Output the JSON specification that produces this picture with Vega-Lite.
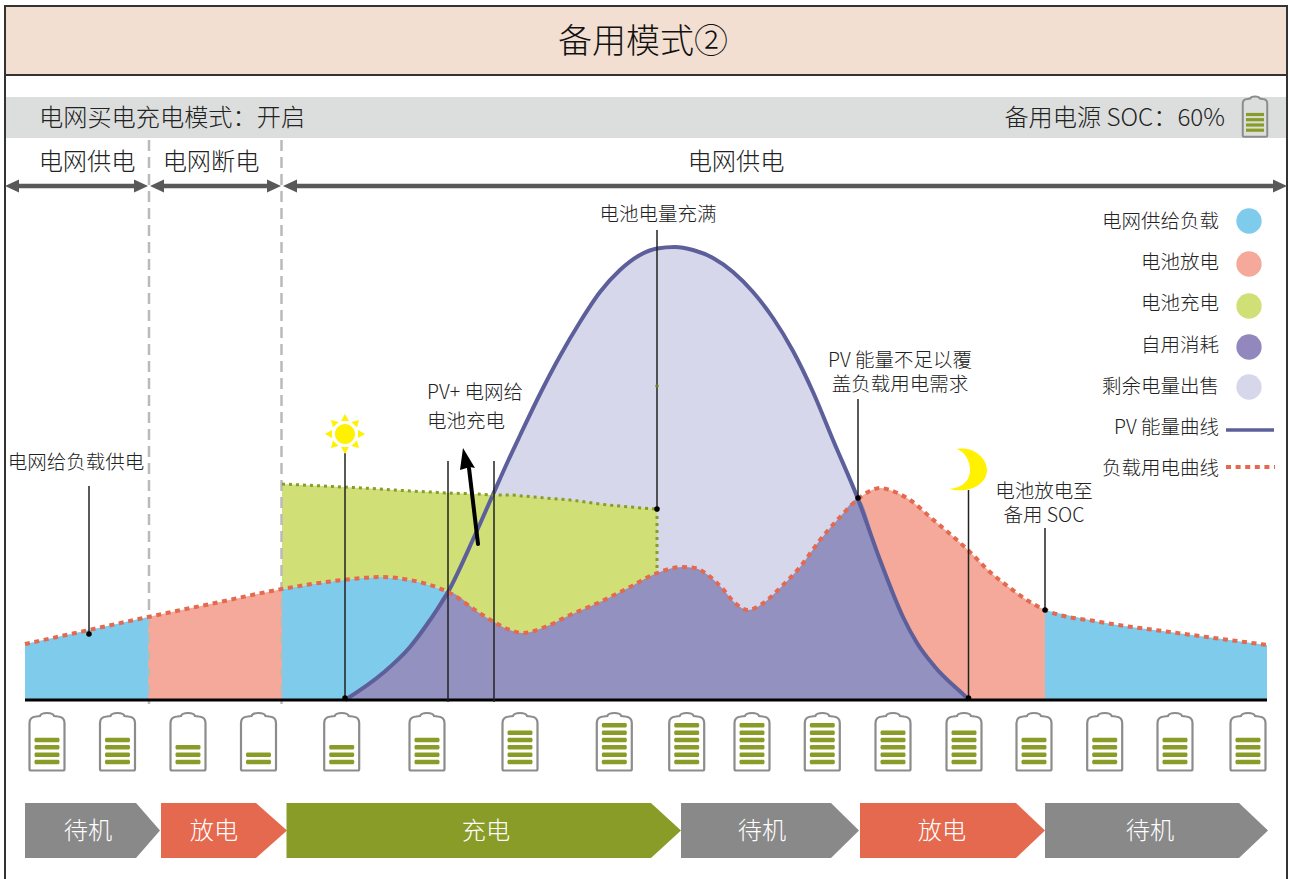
{"$schema":"https://vega.github.io/schema/vega-lite/v6.json","width":1290,"height":879,"padding":0,"autosize":{"type":"none"},"background":"#ffffff","config":{"view":{"stroke":null},"text":{"font":"Noto Sans CJK SC","fontWeight":300,"color":"#222222","baseline":"middle"}},
"datasets":{
"load":[{"x":25,"v":56},{"x":89,"v":70},{"x":148,"v":83},{"x":215,"v":97},{"x":282,"v":111},{"x":343,"v":120},{"x":380,"v":123},{"x":410,"v":120},{"x":430,"v":115},{"x":448,"v":108},{"x":478,"v":88},{"x":494,"v":78},{"x":510,"v":70},{"x":523,"v":67},{"x":545,"v":73},{"x":570,"v":85},{"x":600,"v":98},{"x":630,"v":113},{"x":657,"v":127},{"x":682,"v":133},{"x":695,"v":132},{"x":708,"v":125},{"x":722,"v":112},{"x":735,"v":97},{"x":748,"v":90},{"x":762,"v":96},{"x":780,"v":112},{"x":800,"v":133},{"x":820,"v":160},{"x":840,"v":183},{"x":858,"v":201},{"x":870,"v":209},{"x":880,"v":212},{"x":895,"v":208},{"x":910,"v":200},{"x":930,"v":183},{"x":950,"v":166},{"x":968,"v":150},{"x":990,"v":128},{"x":1010,"v":112},{"x":1030,"v":98},{"x":1045,"v":90},{"x":1100,"v":78},{"x":1170,"v":68},{"x":1267,"v":55}],
"pv":[{"x":345,"v":0},{"x":383,"v":27},{"x":410,"v":53},{"x":430,"v":80},{"x":448,"v":108},{"x":475,"v":165},{"x":493,"v":205.5},{"x":508,"v":239},{"x":520,"v":264.5},{"x":540,"v":306},{"x":560,"v":344},{"x":580,"v":378},{"x":600,"v":408},{"x":620,"v":430},{"x":640,"v":445},{"x":657,"v":451.5},{"x":675,"v":453},{"x":693,"v":450},{"x":713,"v":442},{"x":733,"v":428},{"x":753,"v":408},{"x":773,"v":382},{"x":793,"v":349},{"x":813,"v":308},{"x":833,"v":260},{"x":858,"v":201},{"x":880,"v":140},{"x":903,"v":83},{"x":917,"v":57},{"x":935,"v":33},{"x":967,"v":2},{"x":969,"v":0}],
"self":[{"x":345,"v":0},{"x":383,"v":27},{"x":410,"v":53},{"x":430,"v":80},{"x":448,"v":108},{"x":478,"v":88},{"x":494,"v":78},{"x":510,"v":70},{"x":523,"v":67},{"x":545,"v":73},{"x":570,"v":85},{"x":600,"v":98},{"x":630,"v":113},{"x":657,"v":127},{"x":682,"v":133},{"x":695,"v":132},{"x":708,"v":125},{"x":722,"v":112},{"x":735,"v":97},{"x":748,"v":90},{"x":762,"v":96},{"x":780,"v":112},{"x":800,"v":133},{"x":820,"v":160},{"x":840,"v":183},{"x":858,"v":201},{"x":880,"v":140},{"x":903,"v":83},{"x":917,"v":57},{"x":935,"v":33},{"x":967,"v":2},{"x":969,"v":0}],
"charge":[{"x":282,"v":216,"v2":111},{"x":343,"v":213,"v2":120},{"x":380,"v":211,"v2":123},{"x":410,"v":209,"v2":120},{"x":430,"v":208,"v2":115},{"x":448,"v":207,"v2":108},{"x":478,"v":206,"v2":88},{"x":494,"v":205,"v2":78},{"x":510,"v":205,"v2":70},{"x":523,"v":204,"v2":67},{"x":545,"v":202,"v2":73},{"x":570,"v":200,"v2":85},{"x":600,"v":196,"v2":98},{"x":630,"v":193,"v2":113},{"x":657,"v":191,"v2":127}],
"chev":[{"seg":"a","x":25,"v":-103,"v2":-158},{"seg":"a","x":136,"v":-103,"v2":-158},{"seg":"a","x":160,"v":-130.5,"v2":-130.5},{"seg":"c","x":681,"v":-103,"v2":-158},{"seg":"c","x":831,"v":-103,"v2":-158},{"seg":"c","x":859,"v":-130.5,"v2":-130.5},{"seg":"e","x":1045,"v":-103,"v2":-158},{"seg":"e","x":1239,"v":-103,"v2":-158},{"seg":"e","x":1268,"v":-130.5,"v2":-130.5}],
"chevO":[{"seg":"a","x":161,"v":-103,"v2":-158},{"seg":"a","x":256,"v":-103,"v2":-158},{"seg":"a","x":287,"v":-130.5,"v2":-130.5},{"seg":"b","x":860,"v":-103,"v2":-158},{"seg":"b","x":1016,"v":-103,"v2":-158},{"seg":"b","x":1045,"v":-130.5,"v2":-130.5}],
"chevG":[{"seg":"a","x":286.5,"v":-103,"v2":-158},{"seg":"a","x":651,"v":-103,"v2":-158},{"seg":"a","x":681,"v":-130.5,"v2":-130.5}],
"batteries":[{"x":47,"v":-43},{"x":117.5,"v":-43},{"x":188,"v":-43},{"x":258.5,"v":-43},{"x":341.7,"v":-43},{"x":427,"v":-43},{"x":520,"v":-43},{"x":614.3,"v":-43},{"x":686.7,"v":-43},{"x":752,"v":-43},{"x":822.3,"v":-43},{"x":893,"v":-43},{"x":964,"v":-43},{"x":1034,"v":-43},{"x":1104.7,"v":-43},{"x":1175,"v":-43},{"x":1248,"v":-43}],
"bars":[{"x":47,"v":-62},{"x":47,"v":-54.7},{"x":47,"v":-47.3},{"x":47,"v":-40},{"x":117.5,"v":-62},{"x":117.5,"v":-54.7},{"x":117.5,"v":-47.3},{"x":117.5,"v":-40},{"x":188,"v":-62},{"x":188,"v":-54.7},{"x":188,"v":-47.3},{"x":258.5,"v":-62},{"x":258.5,"v":-54.7},{"x":341.7,"v":-62},{"x":341.7,"v":-54.7},{"x":341.7,"v":-47.3},{"x":427,"v":-62},{"x":427,"v":-54.7},{"x":427,"v":-47.3},{"x":427,"v":-40},{"x":520,"v":-62},{"x":520,"v":-54.7},{"x":520,"v":-47.3},{"x":520,"v":-40},{"x":520,"v":-32.7},{"x":614.3,"v":-62},{"x":614.3,"v":-54.7},{"x":614.3,"v":-47.3},{"x":614.3,"v":-40},{"x":614.3,"v":-32.7},{"x":614.3,"v":-25.3},{"x":686.7,"v":-62},{"x":686.7,"v":-54.7},{"x":686.7,"v":-47.3},{"x":686.7,"v":-40},{"x":686.7,"v":-32.7},{"x":686.7,"v":-25.3},{"x":752,"v":-62},{"x":752,"v":-54.7},{"x":752,"v":-47.3},{"x":752,"v":-40},{"x":752,"v":-32.7},{"x":752,"v":-25.3},{"x":822.3,"v":-62},{"x":822.3,"v":-54.7},{"x":822.3,"v":-47.3},{"x":822.3,"v":-40},{"x":822.3,"v":-32.7},{"x":822.3,"v":-25.3},{"x":893,"v":-62},{"x":893,"v":-54.7},{"x":893,"v":-47.3},{"x":893,"v":-40},{"x":893,"v":-32.7},{"x":964,"v":-62},{"x":964,"v":-54.7},{"x":964,"v":-47.3},{"x":964,"v":-40},{"x":964,"v":-32.7},{"x":1034,"v":-62},{"x":1034,"v":-54.7},{"x":1034,"v":-47.3},{"x":1034,"v":-40},{"x":1104.7,"v":-62},{"x":1104.7,"v":-54.7},{"x":1104.7,"v":-47.3},{"x":1104.7,"v":-40},{"x":1175,"v":-62},{"x":1175,"v":-54.7},{"x":1175,"v":-47.3},{"x":1175,"v":-40},{"x":1248,"v":-62},{"x":1248,"v":-54.7},{"x":1248,"v":-47.3},{"x":1248,"v":-40}],
"annot":[{"x":89,"v":214,"v2":66},{"x":345,"v":247,"v2":2},{"x":448,"v":239,"v2":-2},{"x":494,"v":239,"v2":-2},{"x":657,"v":470,"v2":191},{"x":858,"v":301,"v2":202},{"x":968.5,"v":210,"v2":2},{"x":1045,"v":172,"v2":90}],
"dots":[{"x":89,"v":66},{"x":345,"v":2},{"x":657,"v":191},{"x":858,"v":202},{"x":968.5,"v":2},{"x":1045,"v":90}],
"size19":[{"x":658,"v":486,"t":"电池电量充满"},{"x":76,"v":238,"t":"电网给负载供电"},{"x":475,"v":308,"t":"PV+ 电网给"},{"x":466,"v":279,"t":"电池充电"},{"x":900,"v":340,"t":"PV 能量不足以覆"},{"x":900,"v":316,"t":"盖负载用电需求"},{"x":1044,"v":209,"t":"电池放电至"},{"x":1044,"v":185,"t":"备用 SOC"}],
"legendT":[{"x":1219,"v":479,"t":"电网供给负载"},{"x":1219,"v":438,"t":"电池放电"},{"x":1219,"v":397,"t":"电池充电"},{"x":1219,"v":355,"t":"自用消耗"},{"x":1219,"v":314,"t":"剩余电量出售"},{"x":1219,"v":273,"t":"PV 能量曲线"},{"x":1219,"v":232,"t":"负载用电曲线"}],
"size24c":[{"x":87,"v":539,"t":"电网供电"},{"x":211,"v":539,"t":"电网断电"},{"x":736,"v":539,"t":"电网供电"}],
"chevT":[{"x":88,"v":-130,"t":"待机"},{"x":214,"v":-130,"t":"放电"},{"x":486,"v":-130,"t":"充电"},{"x":762,"v":-130,"t":"待机"},{"x":942,"v":-130,"t":"放电"},{"x":1150,"v":-130,"t":"待机"}]
},
"encoding":{"x":{"field":"x","type":"quantitative","scale":{"domain":[0,1290],"nice":false,"zero":false},"axis":null},"y":{"field":"v","type":"quantitative","stack":null,"scale":{"domain":[-179,700],"nice":false,"zero":false},"axis":null}},
"layer":[
{"data":{"values":[{"x":5,"x2":1287,"v":694,"v2":625}]},"mark":{"type":"rect","fill":"#f2dfd1","stroke":"#333333","strokeWidth":2},"encoding":{"x2":{"field":"x2"},"y2":{"field":"v2"}}},
{"data":{"values":[{"x":6,"x2":1286,"v":603,"v2":562}]},"mark":{"type":"rect","fill":"#dcdedd"},"encoding":{"x2":{"field":"x2"},"y2":{"field":"v2"}}},
{"data":{"values":[{"x":5,"v":694,"v2":-179},{"x":1287,"v":694,"v2":-179}]},"mark":{"type":"rule","stroke":"#333333","strokeWidth":2},"encoding":{"y2":{"field":"v2"}}},
{"data":{"name":"load"},"transform":[{"filter":"datum.x<=148"}],"mark":{"type":"area","fill":"#7fcbeb","interpolate":"monotone"},"encoding":{"y2":{"datum":0}}},
{"data":{"name":"load"},"transform":[{"filter":"datum.x>=148 && datum.x<=282"}],"mark":{"type":"area","fill":"#f4a99a","interpolate":"monotone"},"encoding":{"y2":{"datum":0}}},
{"data":{"name":"load"},"transform":[{"filter":"datum.x>=282 && datum.x<=448"}],"mark":{"type":"area","fill":"#7fcbeb","interpolate":"monotone"},"encoding":{"y2":{"datum":0}}},
{"data":{"name":"load"},"transform":[{"filter":"datum.x>=858 && datum.x<=1045"}],"mark":{"type":"area","fill":"#f4a99a","interpolate":"monotone"},"encoding":{"y2":{"datum":0}}},
{"data":{"name":"load"},"transform":[{"filter":"datum.x>=1045"}],"mark":{"type":"area","fill":"#7fcbeb","interpolate":"monotone"},"encoding":{"y2":{"datum":0}}},
{"data":{"name":"pv"},"transform":[{"filter":"datum.x>=448 && datum.x<=858"}],"mark":{"type":"area","fill":"#d6d7ea","interpolate":"monotone"},"encoding":{"y2":{"datum":0}}},
{"data":{"name":"charge"},"mark":{"type":"area","fill":"#d0e077","interpolate":"monotone"},"encoding":{"y2":{"field":"v2"}}},
{"data":{"name":"self"},"mark":{"type":"area","fill":"#9291c0","interpolate":"monotone"},"encoding":{"y2":{"datum":0}}},
{"data":{"values":[{"x":149,"v":560,"v2":-4},{"x":281.5,"v":560,"v2":-4}]},"mark":{"type":"rule","stroke":"#bababa","strokeWidth":2.5,"strokeDash":[11,6]},"encoding":{"y2":{"field":"v2"}}},
{"data":{"name":"pv"},"mark":{"type":"line","stroke":"#5d5f9b","strokeWidth":4,"interpolate":"monotone"},"encoding":{}},
{"data":{"name":"charge"},"mark":{"type":"line","stroke":"#8a9c28","strokeWidth":3,"strokeDash":[3,4],"interpolate":"monotone"},"encoding":{}},
{"data":{"values":[{"x":657,"v":191,"v2":127}]},"mark":{"type":"rule","stroke":"#8a9c28","strokeWidth":3,"strokeDash":[3,4]},"encoding":{"y2":{"field":"v2"}}},
{"data":{"name":"load"},"mark":{"type":"line","stroke":"#e4694e","strokeWidth":4,"strokeDash":[5,4.6],"interpolate":"monotone"},"encoding":{}},
{"data":{"values":[{"x":25,"x2":1267,"v":0}]},"mark":{"type":"rule","stroke":"#000000","strokeWidth":3},"encoding":{"x2":{"field":"x2"}}},
{"data":{"name":"annot"},"mark":{"type":"rule","stroke":"#222222","strokeWidth":1.5},"encoding":{"y2":{"field":"v2"}}},
{"data":{"name":"dots"},"mark":{"type":"circle","fill":"#000000","size":30,"opacity":1},"encoding":{}},
{"data":{"values":[{"x":657,"v":314}]},"mark":{"type":"circle","fill":"#6f7f20","size":12,"opacity":1},"encoding":{}},
{"data":{"values":[{"x":478,"v":156},{"x":469,"v":232}]},"mark":{"type":"line","stroke":"#000000","strokeWidth":4,"strokeCap":"round"},"encoding":{"order":{"field":"v"}}},
{"data":{"values":[{"x":463,"v":252}]},"mark":{"type":"point","filled":true,"fill":"#000000","opacity":1,"size":4,"shape":"M0,0 L12,20 L7,19 L-3,22 Z"},"encoding":{}},
{"data":{"values":[{"x":345,"v":266}]},"mark":{"type":"point","filled":true,"fill":"#fff100","opacity":1,"size":4,"shape":"M-10,0 A10,10 0 1,0 10,0 A10,10 0 1,0 -10,0 Z M0,-20 L-4,-13 L4,-13 Z M0,20 L-4,13 L4,13 Z M-20,0 L-13,-4 L-13,4 Z M20,0 L13,-4 L13,4 Z M14,-14 L6.4,-12 L12,-6.4 Z M-14,-14 L-6.4,-12 L-12,-6.4 Z M14,14 L6.4,12 L12,6.4 Z M-14,14 L-6.4,12 L-12,6.4 Z"},"encoding":{}},
{"data":{"values":[{"x":968,"v":230}]},"mark":{"type":"point","filled":true,"fill":"#fff100","opacity":1,"size":4,"shape":"M-11,-21 C5,-24 19,-12 19,0 C19,14 2,24 -19,19 C-5,18 2,10 2,0 C2,-9 -3,-18 -11,-21 Z"},"encoding":{}},
{"data":{"values":[{"x":12,"x2":140,"v":514},{"x":156,"x2":273,"v":514},{"x":289,"x2":1274,"v":514}]},"mark":{"type":"rule","stroke":"#595959","strokeWidth":4.5},"encoding":{"x2":{"field":"x2"}}},
{"data":{"values":[{"x":5,"v":514},{"x":150,"v":514},{"x":283,"v":514}]},"mark":{"type":"point","filled":true,"fill":"#595959","opacity":1,"size":4,"shape":"M0,0 L14,-6.5 L14,6.5 Z"},"encoding":{}},
{"data":{"values":[{"x":148,"v":514},{"x":281,"v":514},{"x":1287,"v":514}]},"mark":{"type":"point","filled":true,"fill":"#595959","opacity":1,"size":4,"shape":"M0,0 L-14,-6.5 L-14,6.5 Z"},"encoding":{}},
{"data":{"name":"batteries"},"mark":{"type":"point","filled":false,"fill":"#ffffff","fillOpacity":1,"stroke":"#8c8c8c","strokeWidth":2.2,"opacity":1,"size":4,"shape":"M-17.5,-20 Q-17.5,-26 -11,-26.5 L-7,-27 Q-6,-30 0,-30 Q6,-30 7,-27 L11,-26.5 Q17.5,-26 17.5,-20 L17.5,26 Q17.5,27.5 16,27.5 L-16,27.5 Q-17.5,27.5 -17.5,26 Z"},"encoding":{}},
{"data":{"name":"bars"},"mark":{"type":"rect","fill":"#8a9c28","width":25,"height":4.5,"cornerRadius":1.5},"encoding":{}},
{"data":{"values":[{"x":1255,"v":582.5}]},"mark":{"type":"point","filled":false,"fill":"#dcdedd","fillOpacity":1,"stroke":"#8c8c8c","strokeWidth":2,"opacity":1,"size":1.96,"shape":"M-17.5,-20 Q-17.5,-26 -11,-26.5 L-7,-27 Q-6,-30 0,-30 Q6,-30 7,-27 L11,-26.5 Q17.5,-26 17.5,-20 L17.5,26 Q17.5,27.5 16,27.5 L-16,27.5 Q-17.5,27.5 -17.5,26 Z"},"encoding":{}},
{"data":{"values":[{"x":1255,"v":585.5},{"x":1255,"v":580.3},{"x":1255,"v":575},{"x":1255,"v":569.8}]},"mark":{"type":"rect","fill":"#8a9c28","width":18,"height":3.2},"encoding":{}},
{"data":{"name":"chev"},"mark":{"type":"area","fill":"#898989"},"encoding":{"y2":{"field":"v2"},"detail":{"field":"seg"}}},
{"data":{"name":"chevO"},"mark":{"type":"area","fill":"#e4694e"},"encoding":{"y2":{"field":"v2"},"detail":{"field":"seg"}}},
{"data":{"name":"chevG"},"mark":{"type":"area","fill":"#8a9c28"},"encoding":{"y2":{"field":"v2"},"detail":{"field":"seg"}}},
{"data":{"values":[{"x":1249,"v":479,"k":"电网供给负载"}]},"mark":{"type":"circle","fill":"#7fcbeb","size":640,"opacity":1},"encoding":{}},
{"data":{"values":[{"x":1249,"v":436,"k":"电池放电"}]},"mark":{"type":"circle","fill":"#f4a99a","size":640,"opacity":1},"encoding":{}},
{"data":{"values":[{"x":1249,"v":394,"k":"电池充电"}]},"mark":{"type":"circle","fill":"#d0e077","size":640,"opacity":1},"encoding":{}},
{"data":{"values":[{"x":1249,"v":353,"k":"自用消耗"}]},"mark":{"type":"circle","fill":"#9388bd","size":640,"opacity":1},"encoding":{}},
{"data":{"values":[{"x":1249,"v":313,"k":"剩余电量出售"}]},"mark":{"type":"circle","fill":"#d6d7ea","size":640,"opacity":1},"encoding":{}},
{"data":{"values":[{"x":1226,"x2":1274,"v":270}]},"mark":{"type":"rule","stroke":"#5d5f9b","strokeWidth":3.5},"encoding":{"x2":{"field":"x2"}}},
{"data":{"values":[{"x":1226,"x2":1275,"v":233}]},"mark":{"type":"rule","stroke":"#e4694e","strokeWidth":4,"strokeDash":[5,4.6]},"encoding":{"x2":{"field":"x2"}}},
{"data":{"values":[{"x":643,"v":659,"t":"备用模式②"}]},"mark":{"type":"text","fontSize":34,"align":"center","color":"#111111","fontWeight":300,"dy":2},"encoding":{"text":{"field":"t"}}},
{"data":{"values":[{"x":39,"v":583,"t":"电网买电充电模式：开启"}]},"mark":{"type":"text","fontSize":24.2,"align":"left","dy":1.5},"encoding":{"text":{"field":"t"}}},
{"data":{"values":[{"x":1225,"v":583,"t":"备用电源 SOC：60%"}]},"mark":{"type":"text","fontSize":24.2,"align":"right","dy":1.5},"encoding":{"text":{"field":"t"}}},
{"data":{"name":"size24c"},"mark":{"type":"text","fontSize":24.2,"align":"center","dy":1.5},"encoding":{"text":{"field":"t"}}},
{"data":{"name":"size19"},"mark":{"type":"text","fontSize":19.5,"align":"center","dy":0.8},"encoding":{"text":{"field":"t"}}},
{"data":{"name":"legendT"},"mark":{"type":"text","fontSize":19.5,"align":"right","dy":0.8},"encoding":{"text":{"field":"t"}}},
{"data":{"name":"chevT"},"mark":{"type":"text","fontSize":24.2,"align":"center","color":"#ffffff","dy":1.5},"encoding":{"text":{"field":"t"}}}
]}
